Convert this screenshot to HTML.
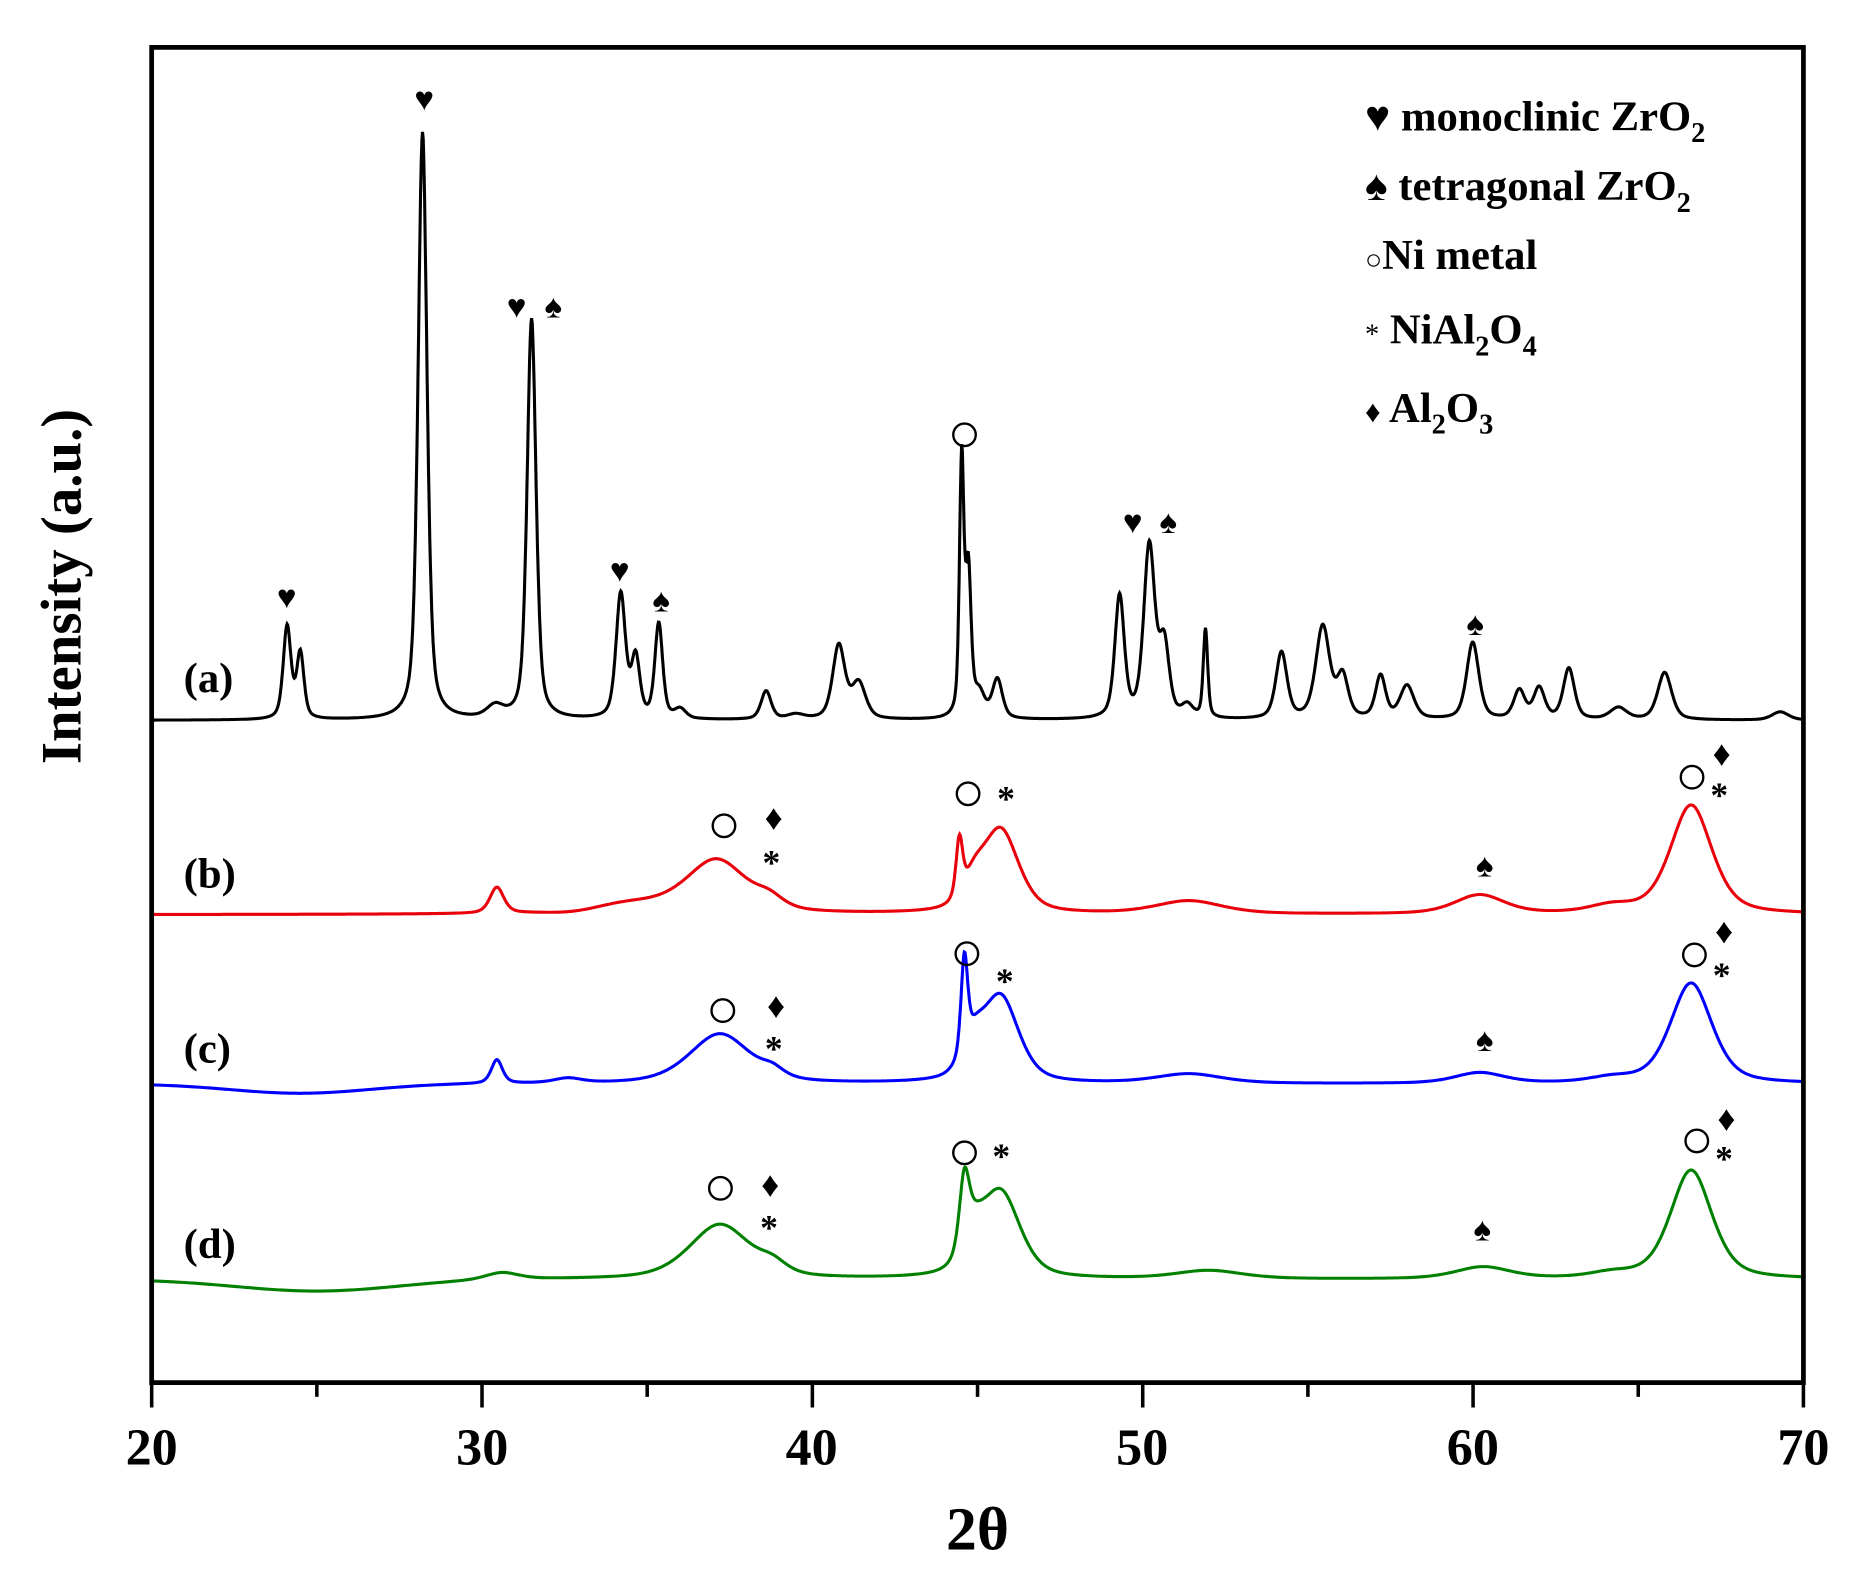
<!DOCTYPE html>
<html><head><meta charset="utf-8"><style>
html,body{margin:0;padding:0;background:#fff;}
svg{display:block;}
text{font-family:"Liberation Serif",serif;font-weight:bold;}
</style></head><body>
<svg id="s" width="1852" height="1571" viewBox="0 0 1563 1326" preserveAspectRatio="none" xmlns="http://www.w3.org/2000/svg">
<rect x="0" y="0" width="1563" height="1326" fill="#fff"/>
<g id="curves"></g>
<rect x="128" y="40" width="1394" height="1127" fill="none" stroke="#000" stroke-width="4"/>
<g id="ticks" stroke="#000" stroke-width="3"></g>
<g font-size="44" text-anchor="middle">
<text x="128" y="1236">20</text><text x="407" y="1236">30</text><text x="685" y="1236">40</text>
<text x="964" y="1236">50</text><text x="1243" y="1236">60</text><text x="1522" y="1236">70</text>
</g>
<text x="825" y="1308" font-size="52" text-anchor="middle">2θ</text>
<text transform="translate(68,495) rotate(-90)" font-size="48" text-anchor="middle">Intensity (a.u.)</text>
<g font-size="36">
<text x="155" y="584">(a)</text><text x="155" y="749">(b)</text><text x="155" y="897">(c)</text><text x="155" y="1062">(d)</text>
</g>
<g font-size="36">
<text x="1152" y="110">♥ monoclinic ZrO<tspan font-size="24" dy="10">2</tspan></text>
<text x="1152" y="169">♠ tetragonal ZrO<tspan font-size="24" dy="10">2</tspan></text>
<text x="1152" y="227"><tspan font-weight="normal" font-size="24">○</tspan>Ni metal</text>
<text x="1152" y="290"><tspan font-weight="normal" font-size="24">*</tspan> NiAl<tspan font-size="24" dy="10">2</tspan><tspan dy="-10">O</tspan><tspan font-size="24" dy="10">4</tspan></text>
<text x="1152" y="356"><tspan font-size="26">♦</tspan> Al<tspan font-size="24" dy="10">2</tspan><tspan dy="-10">O</tspan><tspan font-size="24" dy="10">3</tspan></text>
</g>
<g id="ann" font-size="28" text-anchor="middle"></g>
</svg>
<script>
var NS="http://www.w3.org/2000/svg";
function X(d){return 128+(d-20)*27.88;}
function L(x,c,w){var t=(x-c)/w;return 0.5/(1+t*t)+0.5*Math.exp(-0.693*t*t);}
function G(x,c,w){var t=(x-c)/w;return Math.exp(-t*t);}
function mk(base,peaks,color){
  var d="";
  for(var x=20;x<=70.001;x+=0.02){
    var y=base(x);
    for(var i=0;i<peaks.length;i++){var p=peaks[i];y-=p[1]*L(x,p[0],p[2]);}
    d+=(d?"L":"M")+X(x).toFixed(1)+" "+y.toFixed(1);
  }
  var p=document.createElementNS(NS,"path");
  p.setAttribute("d",d);p.setAttribute("fill","none");p.setAttribute("stroke",color);p.setAttribute("stroke-width","2.6");
  document.getElementById("curves").appendChild(p);
}
mk(function(){return 608;},[[24.1,78,0.14],[24.5,55,0.13],[28.2,496,0.16],[30.4,10,0.3],[31.5,338,0.16],[34.2,105,0.17],[34.65,50,0.15],[35.35,80,0.14],[36,8,0.2],
[38.6,24,0.18],[39.5,4,0.3],[40.8,62,0.22],[41.4,30,0.25],[44.52,215,0.08],[44.72,120,0.1],[45.05,20,0.2],[45.6,33,0.18],
[49.3,103,0.17],[50.2,145,0.2],[50.65,60,0.18],[51.35,10,0.2],[51.9,75,0.08],[54.2,56,0.2],[55.45,78,0.25],[56.05,35,0.2],
[57.2,36,0.18],[58,28,0.25],[59.99,65,0.22],[61.4,24,0.2],[62,26,0.2],[62.9,43,0.2],[64.4,10,0.3],[65.8,40,0.25],[69.3,7,0.3]],"#000");
mk(function(x){return 772+2*G(x,32.8,1);},[[30.45,22,0.25],[34.5,8,1.5],[37.1,45,1.1],[38.7,8,0.5],[44.45,48,0.12],[45.7,70,0.65],[44.9,20,0.4],[51.4,11,1.2],[60.2,16,0.9],[66.6,92,0.75],[64.2,6,0.8]],"#e8000b");
mk(function(x){return 915+8*G(x,24.5,3);},[[30.45,20,0.2],[32.6,4,0.5],[37.2,42,1.1],[38.8,6,0.4],[44.6,80,0.12],[45.7,72,0.65],[44.9,25,0.4],[51.4,8,1.2],[60.2,9,0.9],[66.6,85,0.75],[64.2,4,0.8]],"#0000ff");
mk(function(x){return 1080+10*G(x,25,3.5);},[[30.6,6,0.6],[37.2,46,1.1],[38.8,8,0.5],[44.6,60,0.18],[45.7,72,0.7],[44.9,25,0.4],[52,7,1.2],[60.3,10,1],[66.6,92,0.75],[64.2,4,0.8]],"#008000");
var t=document.getElementById("ticks");
for(var v=20;v<=70;v+=5){var l=document.createElementNS(NS,"line");var xx=X(v);
l.setAttribute("x1",xx);l.setAttribute("x2",xx);l.setAttribute("y1",1167);l.setAttribute("y2",v%10==0?1188:1179);t.appendChild(l);}
var A=document.getElementById("ann");
function s(ch,x,y,fs,w){var e=document.createElementNS(NS,"text");e.setAttribute("x",x);e.setAttribute("y",y);if(fs)e.setAttribute("font-size",fs);if(w)e.setAttribute("font-weight",w);e.textContent=ch;A.appendChild(e);}
function circ(x,y){var c=document.createElementNS(NS,"circle");c.setAttribute("cx",x);c.setAttribute("cy",y);c.setAttribute("r",9.5);c.setAttribute("fill","none");c.setAttribute("stroke","#000");c.setAttribute("stroke-width","2");A.appendChild(c);}
[[242,513],[358,93],[436,268],[523,491],[956,450]].forEach(function(p){s("♥",p[0],p[1]);});
[[467,268],[558,516],[1245,536],[986,450],[1253,740],[1253,887],[1251,1047]].forEach(function(p){s("♠",p[0],p[1]);});
[[814,367],[611,697],[817,670],[1428,656],[610,853],[816,805],[1430,806],[608,1003],[814,973],[1432,963]].forEach(function(p){circ(p[0],p[1]);});
[[653,700],[655,859],[650,1010],[1453,646],[1455,796],[1457,954]].forEach(function(p){s("♦",p[0],p[1],30);});
[[651,738],[849,684],[1451,681],[653,895],[848,838],[1453,833],[649,1046],[845,986],[1455,988]].forEach(function(p){s("*",p[0],p[1],30,"normal");});
</script>
</body></html>
